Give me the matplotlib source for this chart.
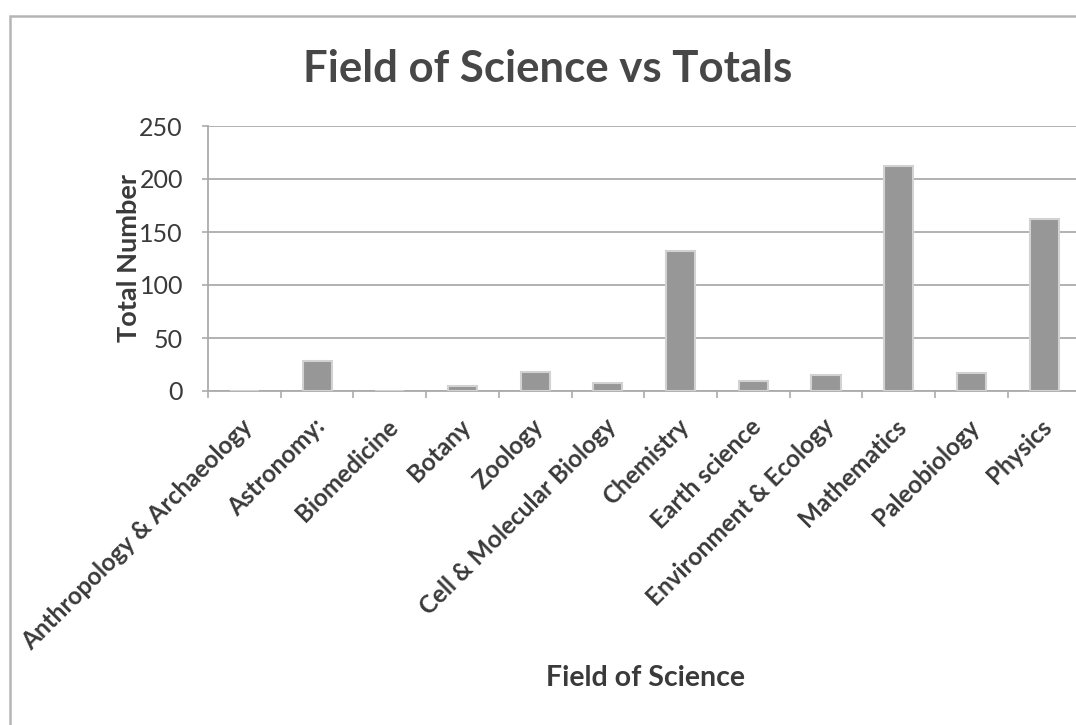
import matplotlib
matplotlib.use("Agg")
import matplotlib.pyplot as plt
from matplotlib.patches import Rectangle
from matplotlib.transforms import ScaledTranslation

# Data
fields = [
    "Anthropology & Archaeology", "Astronomy:", "Biomedicine", "Botany",
    "Zoology", "Cell & Molecular Biology", "Chemistry", "Earth science",
    "Environment & Ecology", "Mathematics", "Paleobiology", "Physics",
]
totals = [0, 28, 0, 5, 18, 8, 132, 9, 15, 212, 17, 162]
y_ticks = [0, 50, 100, 150, 200, 250]

TEXT = "#3a3a3a"
GRID = "#ababab"
FONT = ["Lato", "DejaVu Sans"]

W, H = 1076, 725
fig = plt.figure(figsize=(W / 100, H / 100), dpi=100)
fig.patch.set_facecolor("white")

# chart frame (left and top edges visible)
fig.patches.append(Rectangle((10 / W, -0.2), 1.5, (H - 16) / H + 0.2,
                             transform=fig.transFigure, fill=False,
                             edgecolor="#b5b5b5", linewidth=1.8))

left_px, right_px, top_px, bot_px = 208, 1080.5, 126, 391
ax = fig.add_axes([left_px / W, 1 - bot_px / H,
                   (right_px - left_px) / W, (bot_px - top_px) / H])

x = list(range(len(fields)))
ax.bar(x, totals, width=0.4, color="#979797", edgecolor="#d2d2d2",
       linewidth=1.5, zorder=3)

ax.set_xlim(-0.5, len(fields) - 0.5)
ax.set_ylim(0, 250)
ax.set_yticks(y_ticks)
ax.yaxis.grid(True, color=GRID, linewidth=1.3, zorder=0)
ax.set_axisbelow(True)

for side in ("top", "right"):
    ax.spines[side].set_visible(False)
for side in ("left", "bottom"):
    ax.spines[side].set_color(GRID)
    ax.spines[side].set_linewidth(1.3)

# category labels at centres, tick marks at category boundaries
ax.set_xticks(x)
ax.set_xticks([i - 0.5 for i in range(len(fields) + 1)], minor=True)
ax.tick_params(axis="x", which="major", length=0, pad=17)
ax.tick_params(axis="x", which="minor", length=5, width=1.2, color=GRID)
ax.tick_params(axis="y", length=4, width=1.2, color=GRID, pad=14,
               labelsize=18, labelcolor=TEXT)
for lab in ax.get_yticklabels():
    lab.set_family(FONT)

ax.set_xticklabels(fields, rotation=45, ha="right", va="top",
                   rotation_mode="anchor", fontsize=17.5, fontweight="bold",
                   color=TEXT, family=FONT)
shift = ScaledTranslation(-4 / 100, 0, fig.dpi_scale_trans)
for lab in ax.get_xticklabels():
    lab.set_transform(lab.get_transform() + shift)

ax.set_ylabel("Total Number", fontsize=19.5, fontweight="bold", color=TEXT,
              family=FONT, labelpad=-1)

fig.text(645 / W, 1 - 678 / H, "Field of Science", fontsize=20.5,
         fontweight="bold", color=TEXT, family=FONT, ha="center", va="center")
fig.text(548 / W, 1 - 69 / H, "Field of Science vs Totals", fontsize=31.5,
         fontweight="bold", color="#474747", family=FONT, ha="center",
         va="center")

fig.savefig("out.png", dpi=100, facecolor="white")
